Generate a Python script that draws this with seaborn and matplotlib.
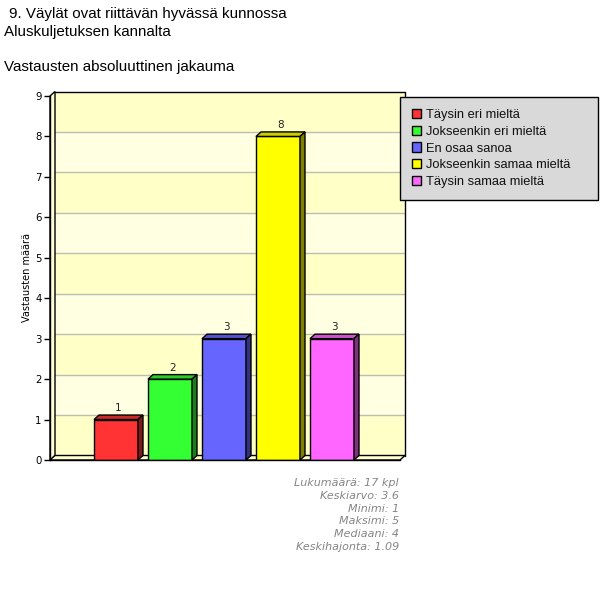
import matplotlib
matplotlib.use("Agg")
import matplotlib.pyplot as plt
from matplotlib.patches import Polygon, Rectangle, Patch
import seaborn as sns
import pandas as pd

categories = ["Täysin eri mieltä", "Jokseenkin eri mieltä", "En osaa sanoa",
              "Jokseenkin samaa mieltä", "Täysin samaa mieltä"]
values = [1, 2, 3, 8, 3]
front_colors = ["#FF3333", "#33FF33", "#6666FF", "#FFFF00", "#FF66FF"]
top_colors = ["#CC2929", "#29CC29", "#5252CC", "#CCCC00", "#CC52CC"]
side_colors = ["#7F1A1A", "#1A7F1A", "#33337F", "#7F7F00", "#7F337F"]
yticks = list(range(0, 10))
title_lines = ["9. Väylät ovat riittävän hyvässä kunnossa", "Aluskuljetuksen kannalta",
               "Vastausten absoluuttinen jakauma"]
stats_lines = ["Lukumäärä: 17 kpl", "Keskiarvo: 3.6", "Minimi: 1", "Maksimi: 5",
               "Mediaani: 4", "Keskihajonta: 1.09"]
ylabel = "Vastausten määrä"

sns.set_theme(style="white")
plt.rcParams["font.family"] = ["DejaVu Sans"]

W, H = 600, 596
fig = plt.figure(figsize=(W / 100, H / 100), dpi=100)
fig.patch.set_facecolor("white")

ax_l, ax_r, ax_b, ax_t = 50, 400, 460, 96
ax = fig.add_axes([ax_l / W, 1 - ax_b / H, (ax_r - ax_l) / W, (ax_b - ax_t) / H])
ax.patch.set_visible(False)

px_unit = 54.0
bar_w = 44 / px_unit
xmin = (50 - 116) / px_unit
xmax = (400 - 116) / px_unit
ymax = 9
py_unit = (ax_b - ax_t) / ymax
dx = 5 / px_unit
dy = 4.5 / py_unit

df = pd.DataFrame({"cat": categories, "val": values})
sns.barplot(data=df, x="cat", y="val", hue="cat", palette=front_colors, order=categories,
            hue_order=categories, width=bar_w, edgecolor="black", linewidth=1,
            legend=False, ax=ax, zorder=3, saturation=1)

ax.set_xlim(xmin, xmax)
ax.set_ylim(0, ymax)

# back wall with alternating bands
band_cols = ["#FFFFC8", "#FFFFE2"]
for k in range(ymax):
    c = band_cols[0] if (ymax - 1 - k) % 2 == 0 else band_cols[1]
    ax.add_patch(Rectangle((xmin + dx, k + dy), (xmax - xmin), 1, facecolor=c,
                           edgecolor="none", zorder=0.5, clip_on=False))
# grid lines
for k in range(1, ymax):
    ax.plot([xmin + dx, xmax + dx], [k + dy, k + dy], color="#BDBDB0", lw=1,
            zorder=0.8, clip_on=False)
# back wall outline
ax.plot([xmin + dx, xmax + dx, xmax + dx], [ymax + dy, ymax + dy, dy], color="black",
        lw=1, zorder=0.9, clip_on=False)
# left wall
ax.add_patch(Polygon([(xmin, 0), (xmin, ymax), (xmin + dx, ymax + dy), (xmin + dx, dy)],
                     closed=True, facecolor="#FFFFD8", edgecolor="black", lw=1,
                     zorder=1, clip_on=False))
# floor
ax.add_patch(Polygon([(xmin, 0), (xmax, 0), (xmax + dx, dy), (xmin + dx, dy)],
                     closed=True, facecolor="#FFFFD0", edgecolor="black", lw=1,
                     zorder=1, clip_on=False))

# 3D faces for bars
for i, (v, tc, sc) in enumerate(zip(values, top_colors, side_colors)):
    x0 = i - bar_w / 2
    x1 = i + bar_w / 2
    ax.add_patch(Polygon([(x0, v), (x1, v), (x1 + dx, v + dy), (x0 + dx, v + dy)],
                         closed=True, facecolor=tc, edgecolor="black", lw=1, zorder=3.5,
                         clip_on=False))
    ax.add_patch(Polygon([(x1, 0), (x1, v), (x1 + dx, v + dy), (x1 + dx, dy)],
                         closed=True, facecolor=sc, edgecolor="black", lw=1, zorder=3.5,
                         clip_on=False))
    ax.annotate(str(v), (i + dx / 2, v + dy), xytext=(0, 1.5), textcoords="offset points",
                ha="center", va="bottom", fontsize=7.5, color="#222222")

for s in ["top", "right"]:
    ax.spines[s].set_visible(False)
for s in ["left", "bottom"]:
    ax.spines[s].set_visible(True)
    ax.spines[s].set_color("black")
    ax.spines[s].set_linewidth(1)
    ax.spines[s].set_zorder(4)
ax.set_xticks([])
ax.set_xlabel("")
ax.set_yticks(yticks)
ax.tick_params(axis="y", direction="out", length=4, width=1, colors="black",
               labelsize=7.3, left=True, pad=2)
ax.set_ylabel("")
fig.text(27 / W, 1 - 278 / H, ylabel, rotation=90, ha="center", va="center",
         fontsize=7, color="black")

# title texts
tfs = 10.9
fig.text(9 / W, 1 - 18 / H, title_lines[0], fontsize=tfs, family="Liberation Sans",
         va="baseline", ha="left", color="black")
fig.text(4 / W, 1 - 36 / H, title_lines[1], fontsize=tfs, family="Liberation Sans",
         va="baseline", ha="left", color="black")
fig.text(4 / W, 1 - 71 / H, title_lines[2], fontsize=tfs, family="Liberation Sans",
         va="baseline", ha="left", color="black")

# stats
for j, line in enumerate(stats_lines):
    fig.text(399 / W, 1 - (486 + 12.8 * j) / H, line, fontsize=8, style="italic",
             color="#858585", ha="right", va="baseline")

# legend
handles = [Patch(facecolor=c, edgecolor="black", lw=1) for c in front_colors]
leg = fig.legend(handles, categories, loc="upper left", mode="expand",
                 bbox_to_anchor=(400 / W, 1 - 198 / H, 198 / W, 101 / H), frameon=True,
                 fancybox=False, framealpha=1, facecolor="#D9D9D9", edgecolor="black",
                 prop={"family": "Liberation Sans", "size": 9.3}, handlelength=0.72,
                 handleheight=0.72, handletextpad=0.4, labelspacing=0.36,
                 borderpad=0.92, borderaxespad=0)
leg.get_frame().set_linewidth(1)
for t in leg.get_texts():
    t.set_color("#111111")

fig.savefig("out.png", dpi=100)
